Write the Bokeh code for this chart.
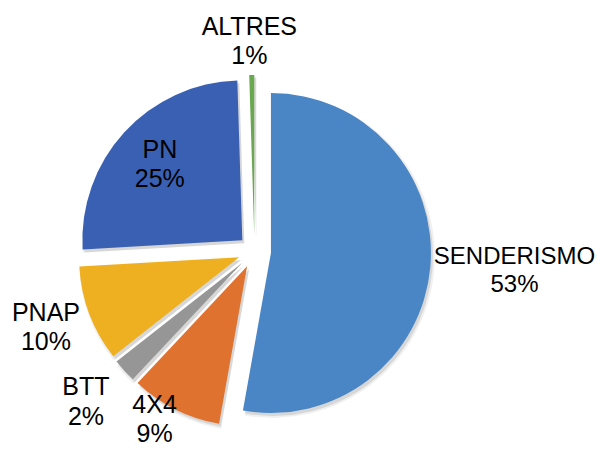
import math
from bokeh.plotting import figure
from bokeh.models import ColumnDataSource
from bokeh.embed import file_html
from bokeh.resources import INLINE
from bokeh.core.properties import value

# ---- data ----
categories = ["SENDERISMO", "4X4", "BTT", "PNAP", "PN", "ALTRES"]
shares = [52.8, 9.2, 2.4, 9.7, 25.4, 0.5]
colors = ["#4a86c5", "#e0722f", "#969696", "#eeb021", "#3a60b3", "#6aa84f"]

# ---- layout / style ----
W, H = 598, 449
CX, CY = 254.0, 198.0      # pie centre (data units = px)
R = 160.0                  # radius
EXPLODE = 16.5             # explosion distance
label_r = [260.6, 194.6, 225.3, 221.7, 129.4, 211.0]
label_dtheta = [-1.1, 4.25, 0.9, 0.85, 0.5, -0.5]   # clockwise degrees
label_size = ["24px", "25px", "25px", "25px", "25px", "25px"]

total = float(sum(shares))
xs, ys, starts, ends, lx, ly, texts = [], [], [], [], [], [], []
cum = 0.0
for i, v in enumerate(shares):
    t1 = cum / total * 360.0
    cum += v
    t2 = cum / total * 360.0
    mid_cw = (t1 + t2) / 2.0
    a = math.radians(90.0 - mid_cw)
    xs.append(CX + EXPLODE * math.cos(a))
    ys.append(CY + EXPLODE * math.sin(a))
    starts.append(math.radians(90.0 - t2))
    ends.append(math.radians(90.0 - t1))
    la = math.radians(90.0 - (mid_cw + label_dtheta[i]))
    lx.append(CX + label_r[i] * math.cos(la))
    ly.append(CY + label_r[i] * math.sin(la))
    texts.append(f"{categories[i]}\n{int(v / total * 100 + 0.5)}%")

src = ColumnDataSource(dict(x=xs, y=ys, start=starts, end=ends, color=colors,
                            sx=[x + 2 for x in xs], sy=[y - 3 for y in ys]))
lsrc = ColumnDataSource(dict(x=lx, y=ly, text=texts, size=label_size))

p = figure(width=W, height=H, x_range=(0, W), y_range=(0, H),
           output_backend="svg", toolbar_location=None, min_border=0,
           x_axis_type=None, y_axis_type=None)
p.grid.visible = False
p.outline_line_color = None
p.background_fill_color = "white"
p.border_fill_color = "white"

# soft shadow
p.wedge(x="sx", y="sy", radius=R + 2, start_angle="start", end_angle="end",
        source=src, fill_color="black", fill_alpha=0.06, line_color=None)
p.wedge(x="sx", y="sy", radius=R, start_angle="start", end_angle="end",
        source=src, fill_color="black", fill_alpha=0.10, line_color=None)
# slices
p.wedge(x="x", y="y", radius=R, start_angle="start", end_angle="end",
        source=src, fill_color="color", line_color=None)

p.text(x="x", y="y", text="text", source=lsrc, text_align="center",
       text_baseline="middle", text_font=value("Liberation Sans"),
       text_font_size="size", text_color="#000000", text_line_height=1.05)

open("out.html", "w").write(file_html(p, INLINE))
